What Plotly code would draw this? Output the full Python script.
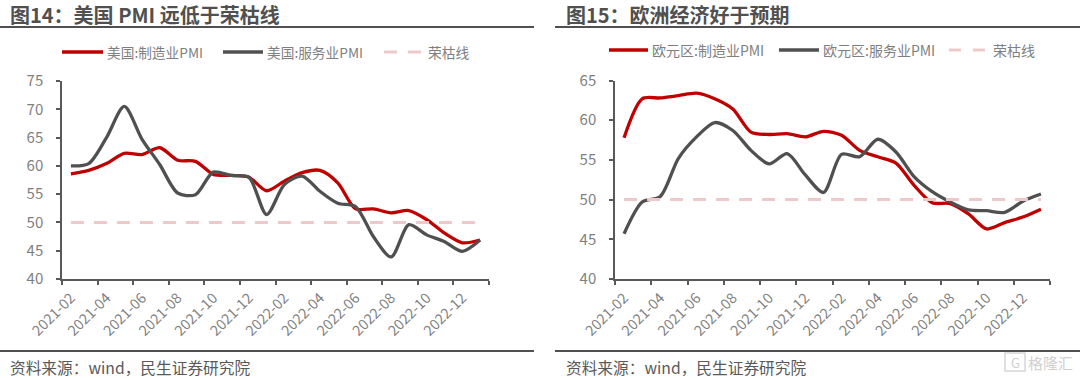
import plotly.graph_objects as go

months = [f"2021-{m:02d}" for m in range(2, 13)] + [f"2022-{m:02d}" for m in range(1, 13)] + ["2023-01"]

us_mfg = [58.6, 59.2, 60.4, 62.2, 62.0, 63.2, 61.0, 60.8, 58.5, 58.3, 58.0, 55.6,
          57.3, 58.8, 59.2, 57.0, 52.4, 52.4, 51.7, 52.1, 50.5, 48.1, 46.4, 46.9]
us_svc = [60.0, 60.4, 65.0, 70.5, 64.7, 60.2, 55.2, 54.9, 58.9, 58.3, 58.0, 51.4,
          56.7, 58.2, 55.5, 53.4, 52.8, 47.5, 43.9, 49.6, 47.8, 46.6, 44.9, 46.9]
eu_mfg = [57.8, 62.7, 62.8, 63.1, 63.4, 62.7, 61.4, 58.5, 58.2, 58.3, 57.9, 58.6,
          58.1, 56.2, 55.4, 54.6, 51.8, 49.6, 49.5, 48.2, 46.3, 47.1, 47.8, 48.8]
eu_svc = [45.7, 49.7, 50.4, 55.2, 57.9, 59.7, 58.7, 56.2, 54.5, 55.8, 53.1, 50.9,
          55.7, 55.4, 57.6, 56.0, 52.9, 51.0, 49.7, 48.7, 48.6, 48.4, 49.8, 50.7]
boom_bust = [50] * 24

W, H = 1080, 378
RED, DARK, PINK, AXIS, TICK = "#C00000", "#505050", "#EFC9CA", "#595959", "#7F7F7F"
FONT = "Noto Sans CJK SC"

fig = go.Figure()

def add_panel(xa, ya, mfg, svc, names):
    kw = dict(x=months, xaxis=xa, yaxis=ya, mode="lines", showlegend=False)
    fig.add_trace(go.Scatter(y=mfg, name=names[0], line=dict(color=RED, width=3.3, shape="spline", smoothing=0.8), **kw))
    fig.add_trace(go.Scatter(y=svc, name=names[1], line=dict(color=DARK, width=3.3, shape="spline", smoothing=0.8), **kw))
    fig.add_trace(go.Scatter(y=boom_bust, name=names[2], line=dict(color=PINK, width=3, dash="13px,10px"), **kw))

add_panel("x", "y", us_mfg, us_svc, ["美国:制造业PMI", "美国:服务业PMI", "荣枯线"])
add_panel("x2", "y2", eu_mfg, eu_svc, ["欧元区:制造业PMI", "欧元区:服务业PMI", "荣枯线"])

def xaxis(x0, x1):
    return dict(domain=[x0 / W, x1 / W], type="category", categoryorder="array", categoryarray=months,
                range=[-0.5, 23.5], tickson="boundaries", dtick=2, tickangle=-45, ticks="outside", ticklen=4,
                tickcolor=AXIS, tickwidth=1.5, showline=True, linecolor=AXIS, linewidth=1.5, showgrid=False,
                zeroline=False, automargin=False, ticklabelstandoff=3,
                tickfont=dict(family=FONT, size=14.5, color=TICK))

def yaxis(y0, y1, lo, hi, anchor):
    return dict(domain=[1 - y1 / H, 1 - y0 / H], range=[lo, hi], dtick=5, ticks="outside", ticklen=4,
                tickcolor=AXIS, tickwidth=1.5, showline=True, linecolor=AXIS, linewidth=1.5, showgrid=False,
                zeroline=False, automargin=False, anchor=anchor, ticklabelstandoff=10,
                tickfont=dict(family=FONT, size=15, color=TICK))

shapes, anns = [], []

def text(x, y, s, size, color, bold=False, anchor="left"):
    anns.append(dict(xref="paper", yref="paper", x=x / W, y=1 - y / H, text=f"<b>{s}</b>" if bold else s,
                     showarrow=False, xanchor=anchor, yanchor="middle", align="left", borderpad=0, borderwidth=0,
                     font=dict(family=FONT, size=size, color=color)))

def rule(x0, x1, y, color=DARK, width=2, dash="solid"):
    shapes.append(dict(type="line", xref="paper", yref="paper", x0=x0 / W, x1=x1 / W, y0=1 - y / H, y1=1 - y / H,
                       line=dict(color=color, width=width, dash=dash)))

# Headers, rules and sources
text(10, 14.6, "图14：美国 PMI 远低于荣枯线", 20, DARK, bold=True)
text(566, 14.6, "图15：欧洲经济好于预期", 20, DARK, bold=True)
rule(0, 534, 27); rule(555, 1080, 27)
rule(0, 534, 351); rule(555, 1080, 351)
text(10, 367, "资料来源：wind，民生证券研究院", 15.7, "#595959")
text(566, 367, "资料来源：wind，民生证券研究院", 15.7, "#595959")

# Watermark
text(1073, 362, "格隆汇", 15, "#CFCFCF", anchor="right")
shapes.append(dict(type="rect", xref="paper", yref="paper", x0=1005 / W, x1=1025 / W, y0=1 - 371 / H, y1=1 - 353 / H,
                   line=dict(color="#D6D6D6", width=1.5)))
text(1015, 362, "G", 13, "#CFCFCF", anchor="center")

# Legend keys
def legend(y, size, items):
    for x0, x1, tx, label, color, dash, w in items:
        rule(x0, x1, y, color=color, width=w, dash=dash)
        text(tx, y, label, size, TICK)

legend(52, 13.7, [(62, 103, 107, "美国:制造业PMI", RED, "solid", 3.3),
                  (223, 263, 267, "美国:服务业PMI", DARK, "solid", 3.3),
                  (384, 421, 428, "荣枯线", PINK, "13px,11px", 3)])
legend(50, 14, [(609, 648, 652, "欧元区:制造业PMI", RED, "solid", 3.3),
                (779, 819, 823, "欧元区:服务业PMI", DARK, "solid", 3.3),
                (949, 985, 993, "荣枯线", PINK, "12px,12px", 3)])

fig.update_layout(
    width=W, height=H, margin=dict(l=0, r=0, t=0, b=0, autoexpand=False), paper_bgcolor="white", plot_bgcolor="white",
    xaxis=xaxis(62, 489), yaxis=yaxis(81, 279, 40, 75, "x"),
    xaxis2=xaxis(615, 1050), yaxis2=yaxis(80.5, 279, 40, 65, "x2"),
    shapes=shapes, annotations=anns, showlegend=False,
)
fig.write_html("out.html", config={"displayModeBar": False}, post_script="document.body.style.margin='0';")
